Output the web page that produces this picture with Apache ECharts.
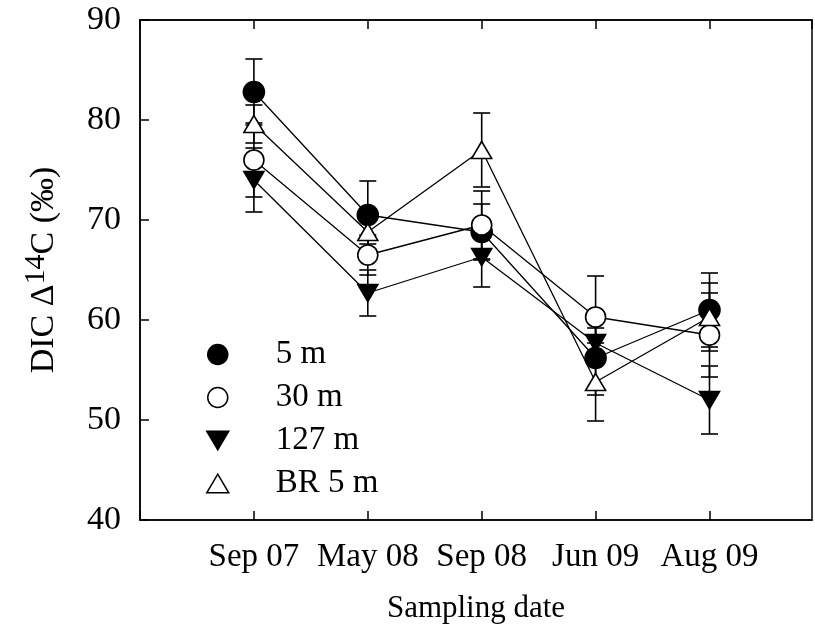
<!DOCTYPE html>
<html>
<head>
<meta charset="utf-8">
<script src="https://cdn.jsdelivr.net/npm/echarts@6/dist/echarts.min.js"></script>
<style>
  html, body { margin: 0; padding: 0; background: #fff; }
  #chart { width: 815px; height: 634px; }
</style>
</head>
<body>
<div id="chart"></div>
<script>
// Sampling campaigns
const categories = ['Sep 07', 'May 08', 'Sep 08', 'Jun 09', 'Aug 09'];

// DIC Δ14C (‰) with ± error per depth
const dic5m   = [82.8, 70.5, 68.8, 56.2, 61.0];
const err5m   = [3.3, 3.4, 2.8, 3.7, 3.7];
const dic30m  = [76.0, 66.5, 69.5, 60.3, 58.5];
const err30m  = [3.7, 2.0, 3.4, 4.1, 4.2];
const dic127m = [74.0, 62.7, 66.3, 57.7, 52.0];
const err127m = [3.2, 2.3, 3.0, 1.5, 3.4];
const dicBR5m = [79.6, 68.8, 77.0, 53.8, 60.3];
const errBR5m = [1.9, 1.2, 3.7, 3.9, 3.4];

const yTicks = [40, 50, 60, 70, 80, 90];

const FONT = '"Liberation Serif", "Times New Roman", serif';
const DOWN_TRI = 'path://M0,0 L20,0 L10,17 Z';
const UP_TRI = 'path://M10,0 L20,17 L0,17 Z';

const pts = (vals) => vals.map((v, i) => [i + 1, v]);
const bars = (vals, errs) => vals.map((v, i) => [i + 1, v - errs[i], v + errs[i]]);

function errorSeries(name, vals, errs) {
  return {
    type: 'custom',
    name: name + ' err',
    z: 3,
    silent: true,
    data: bars(vals, errs),
    renderItem: function (params, api) {
      const x = api.value(0);
      const lo = api.coord([x, api.value(1)]);
      const hi = api.coord([x, api.value(2)]);
      const half = 8.5;
      const st = { stroke: '#000', lineWidth: 1.6 };
      return {
        type: 'group',
        children: [
          { type: 'line', shape: { x1: lo[0], y1: lo[1], x2: hi[0], y2: hi[1] }, style: st },
          { type: 'line', shape: { x1: lo[0] - half, y1: lo[1], x2: lo[0] + half, y2: lo[1] }, style: st },
          { type: 'line', shape: { x1: hi[0] - half, y1: hi[1], x2: hi[0] + half, y2: hi[1] }, style: st }
        ]
      };
    }
  };
}

function lineSeries(name, vals, symbol, size, fill) {
  return {
    type: 'line',
    name: name,
    z: 4,
    data: pts(vals),
    symbol: symbol,
    symbolSize: size,
    showAllSymbol: true,
    lineStyle: { color: '#000', width: 1.3 },
    itemStyle: { color: fill, borderColor: '#000', borderWidth: 1.6 },
    emphasis: { disabled: true },
    animation: false
  };
}

const chart = echarts.init(document.getElementById('chart'), null, { renderer: 'canvas' });

chart.setOption({
  animation: false,
  backgroundColor: '#fff',
  grid: { left: 140, top: 20, width: 672, height: 500, show: true, borderColor: '#000', borderWidth: 1.5, backgroundColor: 'transparent' },
  graphic: [
    {
      type: 'text',
      x: 44,
      y: 270,
      rotation: Math.PI / 2,
      style: {
        text: 'DIC Δ{sup|14}C (‰)',
        fontFamily: FONT,
        fontSize: 34,
        fill: '#000',
        align: 'center',
        verticalAlign: 'middle',
        rich: {
          sup: { fontFamily: FONT, fontSize: 30, fill: '#000', verticalAlign: 'bottom', padding: [0, 0, 16, 0] }
        }
      }
    }
  ],
  legend: {
    orient: 'vertical',
    left: 201,
    top: 333,
    itemWidth: 22,
    itemHeight: 20,
    itemGap: 10,
    selectedMode: false,
    textStyle: { fontFamily: FONT, fontSize: 33, color: '#000', padding: [0, 0, 0, 42] },
    data: [
      { name: '5 m', icon: 'circle', itemStyle: { color: '#000', borderColor: '#000', borderWidth: 1.5 } },
      { name: '30 m', icon: 'circle', itemStyle: { color: '#fff', borderColor: '#000', borderWidth: 1.5 } },
      { name: '127 m', icon: DOWN_TRI, itemStyle: { color: '#000', borderColor: '#000', borderWidth: 1.5 } },
      { name: 'BR 5 m', icon: UP_TRI, itemStyle: { color: '#fff', borderColor: '#000', borderWidth: 1.5 } }
    ]
  },
  xAxis: [
    {
      type: 'value',
      min: 0,
      max: 5.9,
      interval: 1,
      position: 'bottom',
      name: 'Sampling date',
      nameLocation: 'middle',
      nameGap: 73,
      nameTextStyle: { fontFamily: FONT, fontSize: 31, color: '#000' },
      axisLine: { show: true, onZero: false, lineStyle: { color: '#000', width: 1.5 } },
      axisTick: { show: true, inside: true, length: 9, lineStyle: { color: '#000', width: 1.5 } },
      axisLabel: {
        fontFamily: FONT, fontSize: 33, color: '#000', margin: 21,
        showMaxLabel: false,
        formatter: (v) => (Number.isInteger(v) && v >= 1 && v <= categories.length) ? categories[v - 1] : ''
      },
      splitLine: { show: false }
    },
    {
      type: 'value',
      min: 0,
      max: 5.9,
      interval: 1,
      position: 'top',
      axisLine: { show: true, onZero: false, lineStyle: { color: '#000', width: 1.5 } },
      axisTick: { show: true, inside: true, length: 9, lineStyle: { color: '#000', width: 1.5 } },
      axisLabel: { show: false },
      splitLine: { show: false }
    }
  ],
  yAxis: {
    type: 'value',
    min: yTicks[0],
    max: yTicks[yTicks.length - 1],
    interval: 10,
    axisLine: { show: true, onZero: false, lineStyle: { color: '#000', width: 1.5 } },
    axisTick: { show: true, inside: true, length: 9, lineStyle: { color: '#000', width: 1.5 } },
    axisLabel: { fontFamily: FONT, fontSize: 34, color: '#000', margin: 19 },
    splitLine: { show: false }
  },
  series: [
    errorSeries('5 m', dic5m, err5m),
    errorSeries('30 m', dic30m, err30m),
    errorSeries('127 m', dic127m, err127m),
    errorSeries('BR 5 m', dicBR5m, errBR5m),
    lineSeries('5 m', dic5m, 'circle', 21, '#000'),
    lineSeries('30 m', dic30m, 'circle', 20, '#fff'),
    lineSeries('127 m', dic127m, DOWN_TRI, [20, 17], '#000'),
    lineSeries('BR 5 m', dicBR5m, UP_TRI, [20, 17], '#fff')
  ]
});
</script>
</body>
</html>
